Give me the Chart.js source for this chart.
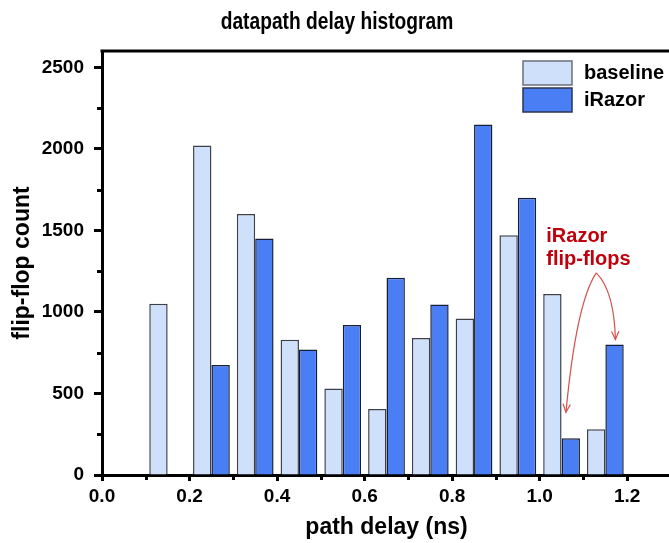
<!DOCTYPE html>
<html>
<head>
<meta charset="utf-8">
<title>datapath delay histogram</title>
<script src="https://cdn.jsdelivr.net/npm/chart.js@4.4.1/dist/chart.umd.min.js"></script>
<style>
  html, body { margin: 0; padding: 0; background: #fff; overflow: hidden; }
  #wrap { width: 674px; height: 543px; }
</style>
</head>
<body>
<div id="wrap"><canvas id="histChart" width="674" height="543"></canvas></div>
<script>
// --- histogram data (bin centres in ns, counts per bin) ---
const binCenters = [0.15, 0.25, 0.35, 0.45, 0.55, 0.65, 0.75, 0.85, 0.95, 1.05, 1.15];
const baselineCounts = [1050, 2020, 1600, 830, 530, 405, 840, 960, 1470, 1110, 280];
const iRazorCounts = [0, 675, 1450, 770, 920, 1210, 1045, 2150, 1700, 225, 800];
const seriesNames = ['baseline', 'iRazor'];

// --- axis ticks ---
const xTickValues = [0, 0.2, 0.4, 0.6, 0.8, 1.0, 1.2];
const xMinorTicks = [0.1, 0.3, 0.5, 0.7, 0.9, 1.1];
const yTickValues = [0, 500, 1000, 1500, 2000, 2500];
const yMinorTicks = [250, 750, 1250, 1750, 2250];

const chartTitle = 'datapath delay histogram';
const annotationLines = ['iRazor', 'flip-flops'];

const SANS = "'Liberation Sans', Arial, sans-serif";

const colors = {
    baseline: '#cfe0fb',
    baselineEdge: '#3c404a',
    iRazor: '#4a7ef5',
    iRazorEdge: '#161f36',
    note: '#c0000b',
    arrow: '#d2514b'
};

// condensed bold title above the frame
const titlePlugin = {
    id: 'condensedTitle',
    afterDraw(chart) {
        const { ctx } = chart;
        ctx.save();
        ctx.font = 'bold 24px ' + SANS;
        ctx.fillStyle = '#000';
        ctx.textAlign = 'center';
        ctx.textBaseline = 'alphabetic';
        ctx.translate(chart.width / 2, 29);
        ctx.scale(0.8, 1);
        ctx.fillText(chartTitle, 0, 0);
        ctx.restore();
    }
};

// frame top line + minor tick marks
const framePlugin = {
    id: 'frame',
    afterDraw(chart) {
        const { ctx, chartArea: a, scales: { x, y } } = chart;
        ctx.save();
        ctx.strokeStyle = '#000';
        ctx.lineWidth = 3;
        ctx.beginPath();
        ctx.moveTo(a.left - 1.5, a.top);
        ctx.lineTo(a.right + 2, a.top);
        ctx.moveTo(a.right, a.top);
        ctx.lineTo(a.right, a.bottom);
        ctx.stroke();

        ctx.beginPath();
        xMinorTicks.forEach(v => {
            const px = Math.round(x.getPixelForValue(v)) + 0.5;
            ctx.moveTo(px, a.bottom);
            ctx.lineTo(px, a.bottom + 5);
        });
        yMinorTicks.forEach(v => {
            const py = Math.round(y.getPixelForValue(v)) + 0.5;
            ctx.moveTo(a.left, py);
            ctx.lineTo(a.left - 5, py);
        });
        ctx.stroke();
        ctx.restore();
    }
};

// legend boxes in the top right corner of the plot
const boxLegendPlugin = {
    id: 'boxLegend',
    afterDraw(chart) {
        const { ctx, chartArea: a } = chart;
        const left = a.right - 148;
        let top = a.top + 10;
        ctx.save();
        ctx.font = 'bold 20px ' + SANS;
        ctx.textBaseline = 'middle';
        chart.data.datasets.forEach(ds => {
            ctx.fillStyle = ds.backgroundColor;
            ctx.fillRect(left, top, 49, 24);
            ctx.lineWidth = 1.5;
            ctx.strokeStyle = ds.label === 'baseline' ? '#6b6f78' : '#2b3550';
            ctx.strokeRect(left, top, 49, 24);
            ctx.fillStyle = '#000';
            ctx.fillText(ds.label, left + 61, top + 12);
            top += 27;
        });
        ctx.restore();
    }
};

function drawArrow(ctx, p0, c, p1) {
    ctx.beginPath();
    ctx.moveTo(p0.x, p0.y);
    ctx.quadraticCurveTo(c.x, c.y, p1.x, p1.y);
    ctx.stroke();
    const ang = Math.atan2(p1.y - c.y, p1.x - c.x);
    const len = 9, spread = 0.42;
    ctx.beginPath();
    ctx.moveTo(p1.x - len * Math.cos(ang - spread), p1.y - len * Math.sin(ang - spread));
    ctx.lineTo(p1.x, p1.y);
    ctx.lineTo(p1.x - len * Math.cos(ang + spread), p1.y - len * Math.sin(ang + spread));
    ctx.stroke();
}

// "iRazor flip-flops" note with arrows to the two short iRazor bars
const notePlugin = {
    id: 'note',
    afterDatasetsDraw(chart) {
        const { ctx, scales: { x, y } } = chart;
        const tx = x.getPixelForValue(1.015);
        const ty = y.getPixelForValue(1430);
        ctx.save();
        ctx.font = 'bold 20px ' + SANS;
        ctx.fillStyle = colors.note;
        ctx.textBaseline = 'alphabetic';
        annotationLines.forEach((t, i) => ctx.fillText(t, tx, ty + i * 23));

        const start = { x: tx + 50, y: ty + 31 };
        const tipA = { x: x.getPixelForValue(1.06), y: y.getPixelForValue(iRazorCounts[9]) - 26 };
        const tipB = { x: x.getPixelForValue(1.173), y: y.getPixelForValue(iRazorCounts[10]) - 5 };
        ctx.strokeStyle = colors.arrow;
        ctx.lineWidth = 1.2;
        drawArrow(ctx, start, { x: start.x - 20, y: start.y + 30 }, tipA);
        drawArrow(ctx, start, { x: start.x + 18, y: start.y + 18 }, tipB);
        ctx.restore();
    }
};

const ctx = document.getElementById('histChart').getContext('2d');
const histChart = new Chart(ctx, {
    type: 'bar',
    data: {
        datasets: [
            {
                label: seriesNames[0],
                data: binCenters.map((b, i) => ({ x: b, y: baselineCounts[i] })),
                backgroundColor: colors.baseline,
                borderColor: colors.baselineEdge,
                borderWidth: 1.5
            },
            {
                label: seriesNames[1],
                data: binCenters.map((b, i) => ({ x: b, y: iRazorCounts[i] })),
                backgroundColor: colors.iRazor,
                borderColor: colors.iRazorEdge,
                borderWidth: 1.5
            }
        ]
    },
    options: {
        responsive: false,
        animation: false,
        categoryPercentage: 0.84,
        barPercentage: 1.0,
        layout: { padding: { left: 0, right: 3, top: 51, bottom: 0 } },
        scales: {
            x: {
                type: 'linear',
                offset: false,
                min: 0,
                max: 1.3,
                afterFit: s => { s.height = 68; },
                afterBuildTicks: s => { s.ticks = xTickValues.map(v => ({ value: v })); },
                ticks: {
                    callback: v => v.toFixed(1),
                    color: '#000',
                    font: { family: SANS, size: 19, weight: 'bold' },
                    padding: 4,
                    maxRotation: 0
                },
                grid: { offset: false, drawOnChartArea: false, drawTicks: true, tickLength: 6, tickWidth: 3, tickColor: '#000' },
                border: { display: true, color: '#000', width: 3 },
                title: {
                    display: true,
                    text: 'path delay (ns)',
                    color: '#000',
                    font: { family: SANS, size: 23, weight: 'bold' },
                    padding: { top: 0, bottom: 2 }
                }
            },
            y: {
                min: 0,
                max: 2600,
                afterFit: s => { s.width = 102; },
                afterBuildTicks: s => { s.ticks = yTickValues.map(v => ({ value: v })); },
                ticks: {
                    callback: v => String(v),
                    color: '#000',
                    font: { family: SANS, size: 19, weight: 'bold' },
                    padding: 10
                },
                grid: { drawOnChartArea: false, drawTicks: true, tickLength: 8, tickWidth: 3, tickColor: '#000' },
                border: { display: true, color: '#000', width: 3 },
                title: {
                    display: true,
                    text: 'flip-flop count',
                    color: '#000',
                    font: { family: SANS, size: 23, weight: 'bold' },
                    padding: { top: 9, bottom: 0 }
                }
            }
        },
        plugins: {
            legend: { display: false },
            tooltip: { enabled: false },
            title: { display: false }
        }
    },
    plugins: [titlePlugin, framePlugin, boxLegendPlugin, notePlugin]
});
</script>
</body>
</html>
